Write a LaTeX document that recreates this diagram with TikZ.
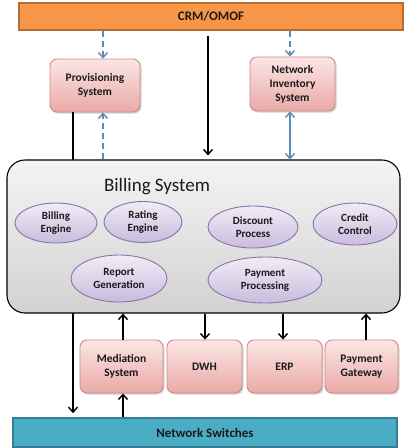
\documentclass[tikz,border=0pt]{standalone}
\usepackage{fontspec}
\setmainfont{Carlito}
\usetikzlibrary{arrows.meta,shadows,shapes.geometric}
\definecolor{orangefill}{HTML}{F79646}
\definecolor{orangeline}{HTML}{B66D31}
\definecolor{pinktop}{HTML}{FBE6E5}
\definecolor{pinkbot}{HTML}{E9A9A6}
\definecolor{pinkline}{HTML}{D08A87}
\definecolor{graytop}{HTML}{F4F4F4}
\definecolor{graybot}{HTML}{D2D2D2}
\definecolor{lavtop}{HTML}{F0ECF6}
\definecolor{lavbot}{HTML}{C9BCDD}
\definecolor{lavline}{HTML}{8A72AE}
\definecolor{tealfill}{HTML}{4BACC6}
\definecolor{tealline}{HTML}{357D91}
\definecolor{blueline}{HTML}{5F8AB8}
\definecolor{txt}{HTML}{1A1A1A}
\tikzset{
  barb/.tip={Straight Barb[length=5pt,width=9pt,line width=1.4pt]},
  bar/.style={draw=#1, line width=1.6pt, text=txt, font=\bfseries\fontsize{13}{15}\selectfont, inner sep=0pt},
  sysbox/.style={draw=pinkline, line width=0.9pt, rounded corners=7pt, top color=pinktop, bottom color=pinkbot,
    align=center, text=txt, font=\bfseries\fontsize{11.5}{14}\selectfont, inner sep=0pt,
    drop shadow={shadow xshift=1.5pt, shadow yshift=-1.5pt, opacity=0.35}},
  oval/.style={ellipse, draw=lavline, line width=0.9pt, top color=lavtop, bottom color=lavbot,
    align=center, text=txt, font=\bfseries\fontsize{11}{13}\selectfont, inner sep=0pt},
  blk/.style={line width=1.6pt, -barb},
  bluearr/.style={blueline, line width=1.6pt, -barb},
  bluedash/.style={bluearr, dash pattern=on 6pt off 4pt},
  bluedouble/.style={blueline, line width=1.6pt, barb-barb},
}
\begin{document}
\begin{tikzpicture}[x=1pt,y=-1pt]
\useasboundingbox (0,0) rectangle (410,448);
\fill[white] (0,0) rectangle (410,448);
% bars
\node[bar=orangeline, fill=orangefill, minimum width=384pt, minimum height=27pt] (crm) at (211,16.5) {CRM/OMOF};
\node[bar=tealline, fill=tealfill, minimum width=384pt, minimum height=29pt] (nsw) at (205,432.5) {Network Switches};
% top systems
\node[sysbox, minimum width=90pt, minimum height=53pt] (prov) at (95,85.5) {Provisioning\\System};
\node[sysbox, minimum width=85pt, minimum height=54pt] (ninv) at (292.5,84) {Network\\Inventory\\System};
% long line from provisioning to switches (behind billing)
\draw[blk] (prov.south -| 73,0) -- ([yshift=4pt]nsw.north -| 73,0);
% billing system
\node[draw=black, line width=1.1pt, rounded corners=18pt, top color=graytop, bottom color=graybot,
  minimum width=393pt, minimum height=153pt, inner sep=0pt] (bill) at (203.5,236.5) {};
\node[font=\fontsize{19}{22}\selectfont, text=txt] (btitle) at (157,187) {Billing System};
\node[oval, minimum width=82pt, minimum height=40pt] (be) at (56,223) {Billing\\Engine};
\node[oval, minimum width=78pt, minimum height=41pt] (re) at (143,222) {Rating\\Engine};
\node[oval, minimum width=90pt, minimum height=42pt] (dp) at (253,227) {Discount\\Process};
\node[oval, minimum width=84pt, minimum height=42pt] (cc) at (355,224) {Credit\\Control};
\node[oval, minimum width=96pt, minimum height=47pt] (rg) at (119,278.5) {Report\\Generation};
\node[oval, minimum width=114pt, minimum height=46pt] (pp) at (265,280) {Payment\\Processing};
% bottom systems
\node[sysbox, minimum width=83pt, minimum height=53pt] (med) at (121.5,366.5) {Mediation\\System};
\node[sysbox, minimum width=75pt, minimum height=53pt] (dwh) at (204.5,366.5) {DWH};
\node[sysbox, minimum width=75pt, minimum height=53pt] (erp) at (284.5,366.5) {ERP};
\node[sysbox, minimum width=73pt, minimum height=53pt] (pg) at (361.5,366.5) {Payment\\Gateway};
% top connectors
\draw[bluedash] (crm.south -| 103,0) -- (prov.north -| 103,0);
\draw[bluedash] (crm.south -| 290,0) -- (ninv.north -| 290,0);
\draw[blk] ([yshift=-5pt]crm.south -| 208,0) -- ([yshift=4pt]bill.north -| 208,0);
\draw[bluedash] (bill.north -| 103,0) -- (prov.south -| 103,0);
\draw[bluedouble] (ninv.south -| 290,0) -- (bill.north -| 290,0);
% bottom connectors
\draw[blk] (med.north -| 123,0) -- (bill.south -| 123,0);
\draw[blk] (nsw.north -| 123,0) -- (med.south -| 123,0);
\draw[blk] (bill.south -| 205,0) -- (dwh.north -| 205,0);
\draw[blk] (bill.south -| 283,0) -- (erp.north -| 283,0);
\draw[blk] (pg.north -| 366,0) -- (bill.south -| 366,0);
\end{tikzpicture}
\end{document}
